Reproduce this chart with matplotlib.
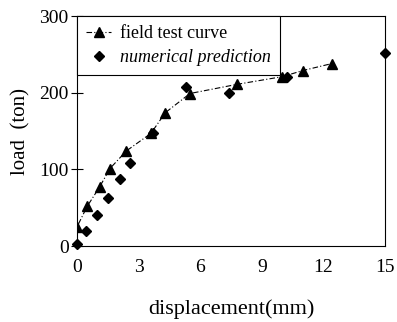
import matplotlib
matplotlib.use("Agg")
import matplotlib.pyplot as plt

# field test load-displacement curve
field_disp = [0.0, 0.0, 0.5, 1.1, 1.6, 2.4, 3.6, 4.3, 5.5, 7.8, 10.0, 11.0, 12.4]
field_load = [0, 25, 52, 77, 101, 124, 147, 174, 199, 211, 221, 229, 238]

# numerical prediction points
num_disp = [0.0, 0.45, 0.95, 1.5, 2.1, 2.6, 3.7, 5.3, 7.4, 10.2, 15.0]
num_load = [2, 19, 40, 62, 87, 108, 147, 208, 200, 221, 252]

XTICKS = [0, 3, 6, 9, 12, 15]
YTICKS = [0, 100, 200, 300]

plt.rcParams['font.family'] = ['Liberation Serif', 'DejaVu Serif']

fig = plt.figure(figsize=(3.97, 3.22), dpi=100)
ax = fig.add_axes([0.194, 0.236, 0.776, 0.714])

ax.plot(field_disp, field_load, color="black", linestyle=(0, (5, 2, 1, 2)), linewidth=0.8,
        marker="^", markersize=7, label="field test curve")
ax.plot(num_disp, num_load, color="black", linestyle="none",
        marker="D", markersize=5, label="numerical prediction", clip_on=False)

ax.set_xlim(0, 15)
ax.set_ylim(0, 300)
ax.set_xticks(XTICKS)
ax.set_yticks(YTICKS)
ax.tick_params(axis="y", direction="inout", length=8, width=0.8, labelsize=14, pad=2)
ax.tick_params(axis="x", length=0, labelsize=14, pad=9)
for s in ax.spines.values():
    s.set_linewidth(0.8)

ax.set_xlabel("displacement(mm)", fontsize=16, labelpad=17)
ax.set_ylabel("load  (ton)", fontsize=15, labelpad=6)

leg = ax.legend(loc="upper left", borderaxespad=0, fancybox=False, edgecolor="black",
                framealpha=1, fontsize=13, handlelength=1.4, handletextpad=0.5,
                borderpad=0.5, labelspacing=0.4)
leg.get_frame().set_linewidth(0.8)
leg.get_texts()[1].set_fontstyle("italic")

plt.savefig("out.png", dpi=100)
